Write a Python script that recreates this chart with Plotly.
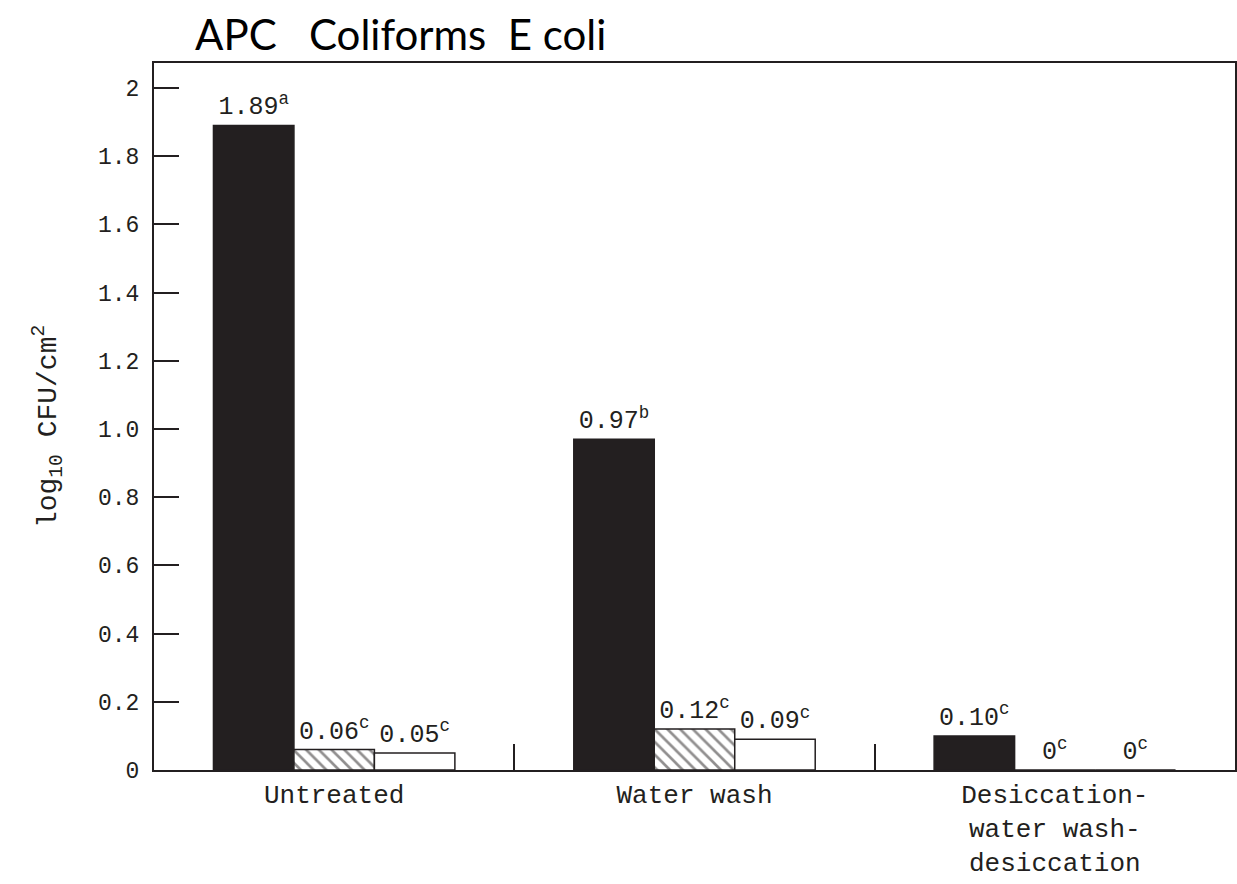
import plotly.graph_objects as go

# Treatments along the x axis
categories = ["Untreated", "Water wash", "Desiccation-<br>water wash-<br>desiccation"]

# log10 CFU/cm2 for each organism group
apc = [1.89, 0.97, 0.10]
coliforms = [0.06, 0.12, 0.0]
e_coli = [0.05, 0.09, 0.0]

# Significance letters shown as superscripts on the value labels
apc_letters = ["a", "b", "c"]
coliform_letters = ["c", "c", "c"]
e_coli_letters = ["c", "c", "c"]

y_ticks = [0, 0.2, 0.4, 0.6, 0.8, 1.0, 1.2, 1.4, 1.6, 1.8, 2]
y_tick_text = ["0", "0.2", "0.4", "0.6", "0.8", "1.0", "1.2", "1.4", "1.6", "1.8", "2"]

MONO = "Liberation Mono, Courier New, monospace"
INK = "#231f20"


def value_labels(values, letters):
    out = []
    for v, s in zip(values, letters):
        num = "0" if v == 0 else f"{v:.2f}"
        out.append(f"{num}<sup>{s}</sup>")
    return out


line_style = dict(color=INK, width=1.5)
text_font = dict(family=MONO, size=25, color=INK)

fig = go.Figure()
fig.add_trace(go.Bar(
    name="APC", x=categories, y=apc,
    marker=dict(color=INK, line=line_style),
    text=value_labels(apc, apc_letters), textposition="outside",
    textfont=text_font, cliponaxis=False,
))
fig.add_trace(go.Bar(
    name="Coliforms", x=categories, y=coliforms,
    marker=dict(color="white", line=line_style,
                pattern=dict(shape="\\", fgcolor=INK, bgcolor="white",
                             size=9, solidity=0.3)),
    text=value_labels(coliforms, coliform_letters), textposition="outside",
    textfont=text_font, cliponaxis=False,
))
fig.add_trace(go.Bar(
    name="E coli", x=categories, y=e_coli,
    marker=dict(color="white", line=line_style),
    text=value_labels(e_coli, e_coli_letters), textposition="outside",
    textfont=text_font, cliponaxis=False,
))

fig.update_layout(
    width=1237, height=884,
    margin=dict(l=154, r=2, t=63, b=114, autoexpand=False),
    paper_bgcolor="white", plot_bgcolor="white",
    barmode="group", bargap=0.33, bargroupgap=0,
    showlegend=False,
    font=dict(family=MONO, color=INK),
    annotations=[
        # series key written as a plain text line above the frame
        dict(
            text="APC   Coliforms  E coli",
            x=(193 - 154) / 1081, xref="paper", y=1, yref="paper",
            showarrow=False, xanchor="left", yanchor="bottom", yshift=2,
            font=dict(family="Lato, Carlito, sans-serif", size=42, color="black"),
        ),
        # y-axis title
        dict(
            text="log<sub>10</sub> CFU/cm<sup>2</sup>",
            x=(48 - 154) / 1081, xref="paper", y=0.485, yref="paper",
            showarrow=False, textangle=-90, xanchor="center", yanchor="middle",
            font=dict(family=MONO, size=28, color=INK),
        ),
    ],
)

fig.update_xaxes(
    automargin=False,
    showline=True, linecolor=INK, linewidth=2, mirror=True,
    tickson="boundaries", ticks="inside", ticklen=26, tickwidth=1.5,
    tickcolor=INK, ticklabelstandoff=0,
    tickfont=dict(family=MONO, size=26, color=INK),
    showgrid=False, zeroline=False,
)
fig.update_yaxes(
    automargin=False,
    range=[0, 2.073],
    showline=True, linecolor=INK, linewidth=2, mirror=True,
    ticks="inside", ticklen=25, tickwidth=1.5, tickcolor=INK,
    ticklabelstandoff=8,
    tickvals=y_ticks, ticktext=y_tick_text,
    tickfont=dict(family=MONO, size=23, color=INK),
    showgrid=False, zeroline=False,
)

fig.write_html("out.html")
